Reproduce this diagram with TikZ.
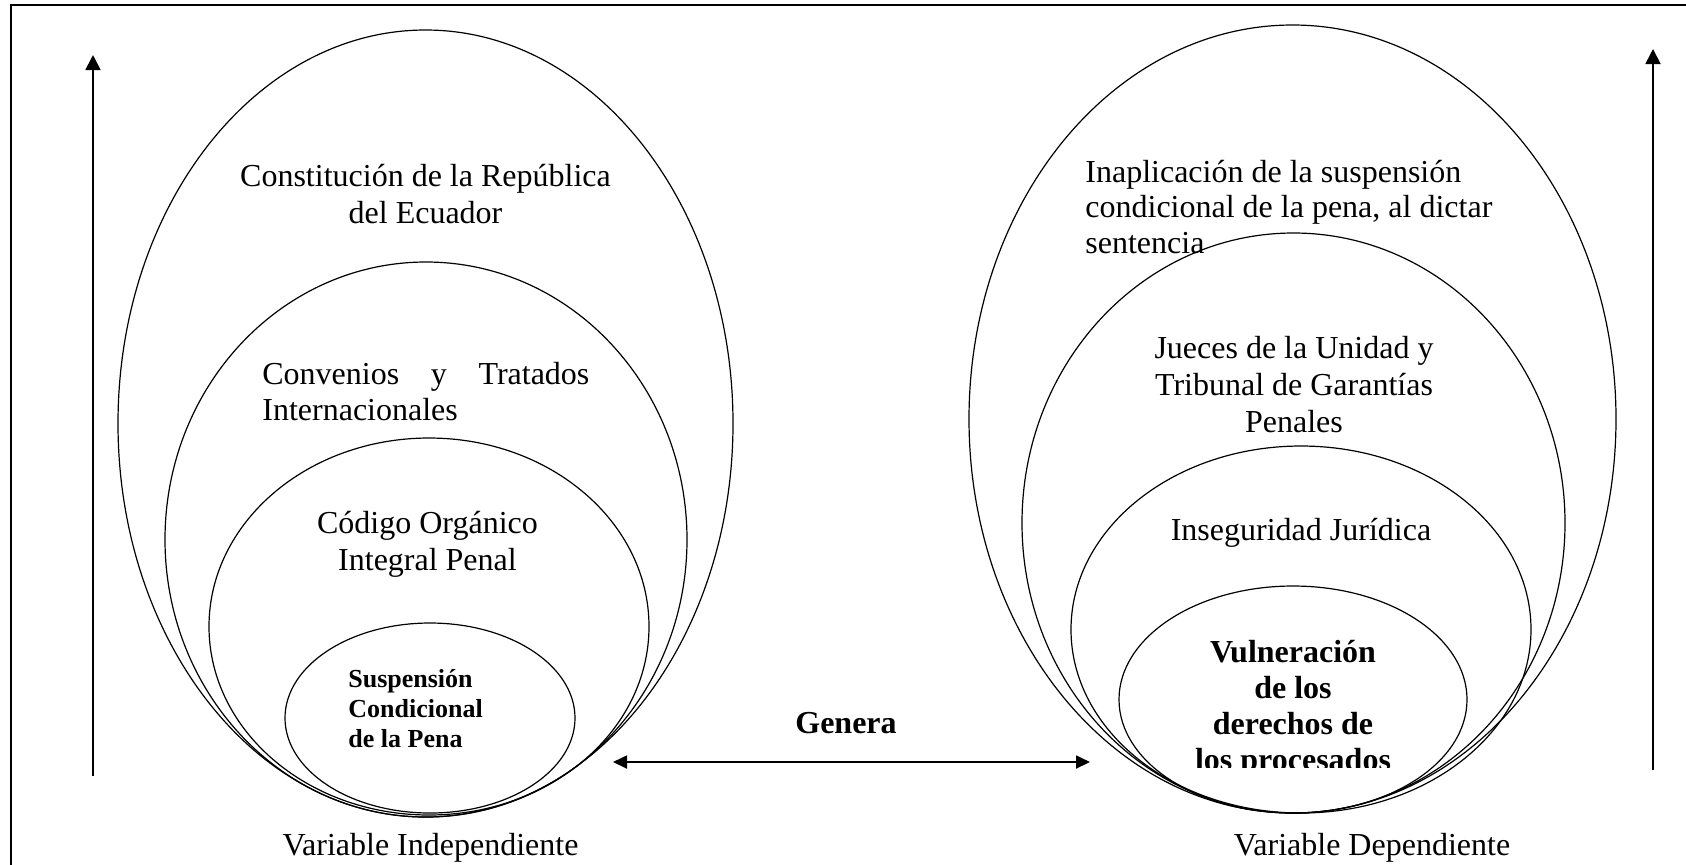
\documentclass[tikz,border=0pt]{standalone}
\usepackage{fontspec}
\setmainfont{Liberation Serif}
\usetikzlibrary{arrows.meta}
\tikzset{
    oval/.style = {draw=black, line width=0.6pt},
    frame-line/.style = {draw=black, line width=1pt},
    trend-arrow/.style = {-{Triangle[length=7.5pt,width=7.5pt]}, line width=0.9pt},
    link-arrow/.style = {{Triangle[length=7pt,width=6.5pt]}-{Triangle[length=7pt,width=6.5pt]}, line width=0.9pt},
    plain-text/.style = {font=\fontsize{16}{18.5}\selectfont, inner sep=0pt, anchor=base},
    bold-text/.style = {plain-text, font=\fontsize{16}{18}\selectfont\bfseries},
}

\begin{document}
\begin{tikzpicture}[x=0.5pt, y=-0.5pt]
\useasboundingbox (0,0) rectangle (1686,864);
\draw[frame-line] (10.7,870) |- (1690,5);

\draw[oval] (425.5,423.5) ellipse [x radius=307.5, y radius=393.5];
\draw[oval] (426,539.5) ellipse [x radius=261, y radius=277.5];
\draw[oval] (429,626.5) ellipse [x radius=220, y radius=188.5];
\draw[oval] (430,718) ellipse [x radius=145, y radius=95];

\node[plain-text, align=center] (constitucion) at (425.5,223) {Constitución de la República\\del Ecuador};
\node[plain-text, align=left, anchor=base west, font=\fontsize{16}{18}\selectfont] (convenios) at (262,420) {\makebox[163.5pt][s]{Convenios y Tratados}\\Internacionales};
\node[plain-text, align=center] (codigo) at (427.5,570) {Código Orgánico\\Integral Penal};
\node[bold-text, align=left, anchor=base west, font=\fontsize{13}{15}\selectfont\bfseries] (suspension) at (348,747) {Suspensión\\Condicional\\de la Pena};
\node[plain-text] (independiente) at (430.5,855) {Variable Independiente};

\draw[oval] (1292.5,419) ellipse [x radius=323.5, y radius=394];
\draw[oval] (1293.5,523) ellipse [x radius=271.5, y radius=290];
\draw[oval] (1301,629.5) ellipse [x radius=230, y radius=183.5];
\draw[oval] (1293,699.5) ellipse [x radius=174, y radius=113.5];

\node[plain-text, align=left, anchor=base west, font=\fontsize{16}{17.75}\selectfont] (inaplicacion) at (1085,253) {Inaplicación de la suspensión\\condicional de la pena, al dictar\\sentencia};
\node[plain-text, align=center] (jueces) at (1294,432) {Jueces de la Unidad y\\Tribunal de Garantías\\Penales};
\node[plain-text] (inseguridad) at (1301,540) {Inseguridad Jurídica};
\begin{scope}
\clip (1100,600) rectangle (1500,767);
\node[bold-text, align=center] (vulneracion) at (1293,770) {Vulneración\\de los\\derechos de\\los procesados};
\end{scope}
\node[plain-text] (dependiente) at (1372,855) {Variable Dependiente};

\node[bold-text] (genera) at (846,733) {Genera};
\coordinate (link-w) at (613,762);
\coordinate (link-e) at (1090,762);
\draw[link-arrow] (link-w) -- (link-e);

\coordinate (vi-foot) at (93,776);
\coordinate (vi-head) at (93,55);
\draw[trend-arrow] (vi-foot) -- (vi-head);
\coordinate (vd-foot) at (1653,770);
\coordinate (vd-head) at (1653,49);
\draw[trend-arrow] (vd-foot) -- (vd-head);
\end{tikzpicture}
\end{document}
